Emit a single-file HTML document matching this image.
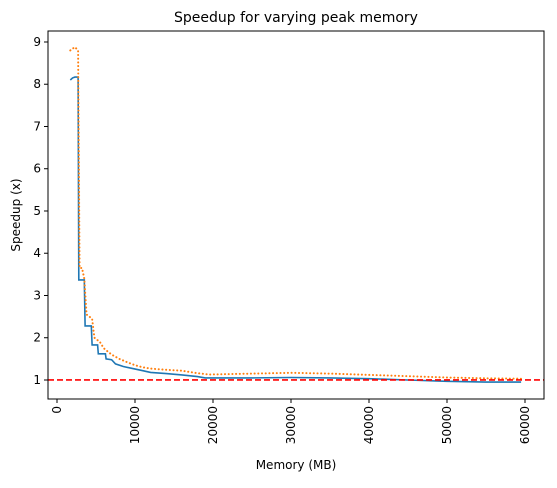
<!DOCTYPE html>
<html><head><meta charset="utf-8"><style>
body{margin:0;background:#fff;font-family:"Liberation Sans","DejaVu Sans",sans-serif;}
svg text{font-family:"DejaVu Sans","Liberation Sans",sans-serif;}
</style></head><body>
<svg id="chart" width="557" height="483" viewBox="0 0 557 483" xmlns="http://www.w3.org/2000/svg"></svg>
<script>
const blueMem=[1700,2000,2300,2700,2800,3500,3600,4400,4500,5200,5300,6200,6300,7000,7500,8500,9500,11000,12000,14000,16000,18000,19000,25000,30000,35000,40000,45000,50000,55000,59500];
const blueVal=[8.1,8.15,8.17,8.17,3.37,3.37,2.28,2.28,1.83,1.83,1.62,1.62,1.5,1.48,1.38,1.32,1.28,1.22,1.18,1.15,1.12,1.08,1.05,1.05,1.06,1.05,1.03,1.0,0.97,0.95,0.95];
const orangeMem=[1700,2300,2700,2900,3200,3500,3800,4500,4800,5500,6000,7000,8000,9000,10000,11000,12000,14000,16000,18000,19500,25000,30000,35000,40000,45000,50000,55000,59500];
const orangeVal=[8.8,8.88,8.8,3.65,3.65,3.4,2.55,2.45,2.0,1.9,1.75,1.6,1.5,1.42,1.35,1.3,1.27,1.24,1.22,1.16,1.13,1.15,1.17,1.15,1.12,1.09,1.06,1.04,1.03];
const xTicks=[0,10000,20000,30000,40000,50000,60000];
const yTicks=[1,2,3,4,5,6,7,8,9];
const baseline=1;

const svg=document.getElementById('chart');
const NS='http://www.w3.org/2000/svg';
const L=48,R=544,T=31,B=399;
const xMin=-1154,xMax=62436,yMin=0.55,yMax=9.26;
const xs=v=>L+(v-xMin)/(xMax-xMin)*(R-L);
const ys=v=>B-(v-yMin)/(yMax-yMin)*(B-T);
function mk(tag,attrs,parent){const e=document.createElementNS(NS,tag);for(const k in attrs)e.setAttribute(k,attrs[k]);(parent||svg).appendChild(e);return e;}

const title=mk('text',{x:(L+R)/2,y:22,'text-anchor':'middle','font-size':'14',fill:'#000'});
title.textContent='Speedup for varying peak memory';



yTicks.forEach(t=>{
  const y=ys(t);
  const tk=mk('line',{x1:L-4,x2:L,y1:y,y2:y,stroke:'#000','stroke-width':1});
  
  
  const lb=mk('text',{x:L-7,y:y+4,'text-anchor':'end','font-size':'12'});
  lb.textContent=t;
  
  
});
xTicks.forEach(t=>{
  const x=xs(t);
  const tk=mk('line',{x1:x,x2:x,y1:B,y2:B+4,stroke:'#000','stroke-width':1});
  
  
  const lb=mk('text',{x:0,y:0,'text-anchor':'end','font-size':'12',transform:`translate(${x+4},${B+7}) rotate(-90)`});
  lb.textContent=t;
  
  
});
const xt=mk('text',{x:(L+R)/2,y:469,'text-anchor':'middle','font-size':'12'});
xt.textContent='Memory (MB)';


const yt=mk('text',{x:0,y:0,'text-anchor':'middle','font-size':'12',transform:`translate(20,${(T+B)/2}) rotate(-90)`});
yt.textContent='Speedup (x)';



function path(mem,val){return mem.map((m,i)=>(i?'L':'M')+xs(m).toFixed(1)+','+ys(val[i]).toFixed(1)).join(' ');}
const bl=mk('path',{d:path(blueMem,blueVal),fill:'none',stroke:'#1f77b4','stroke-width':1.6});


const or=mk('path',{d:path(orangeMem,orangeVal),fill:'none',stroke:'#ff7f0e','stroke-width':2,'stroke-linecap':'round','stroke-dasharray':'0.1,3.6'});


const hl=mk('line',{x1:L,x2:R,y1:ys(baseline),y2:ys(baseline),stroke:'#ff0000','stroke-width':1.6,'stroke-dasharray':'6,3'});



const fr=mk('rect',{x:L,y:T,width:R-L,height:B-T,fill:'none',stroke:'#000','stroke-width':1});


</script>
</body></html>
